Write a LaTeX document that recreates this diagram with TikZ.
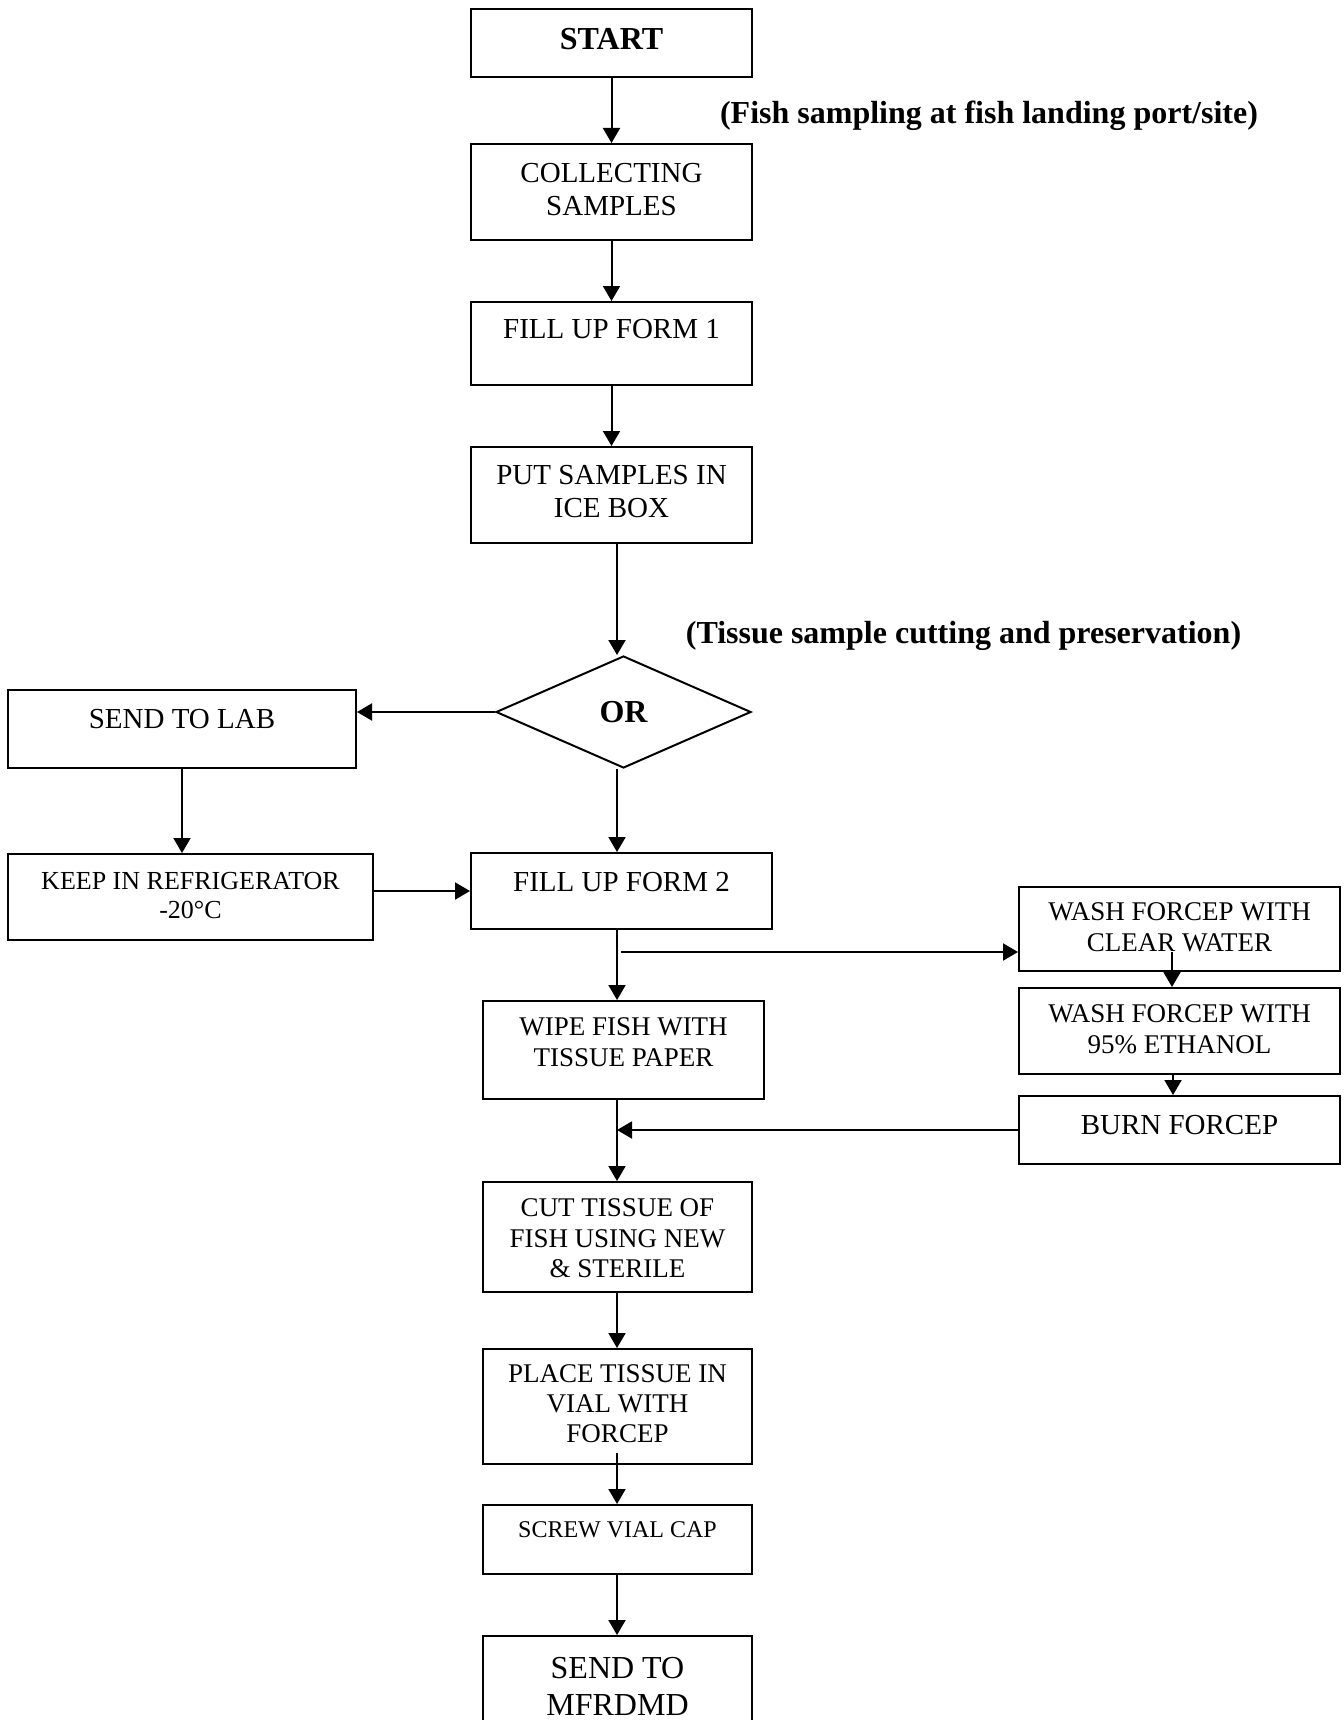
\documentclass[tikz,border=0pt]{standalone}
\usepackage{fontspec}
\setmainfont{Liberation Serif}
\usetikzlibrary{arrows.meta,shapes.geometric,calc}

\tikzset{every picture/.style={line width=2pt}}
\tikzset{
  stepbox/.style={draw, rectangle, inner sep=0pt},
  choice/.style={draw, diamond, inner sep=0pt, font=\fontsize{32}{36}\selectfont\bfseries},
  note/.style={inner sep=0pt, font=\fontsize{32}{36}\selectfont\bfseries},
  arr/.style={-{Triangle[length=15pt,width=17pt]}},
}
% box text: width, height, top gap, text
\newcommand{\steptext}[4]{\begin{minipage}[c][#2pt][t]{#1pt}\centering\vspace*{#3pt}#4\end{minipage}}

\begin{document}
\begin{tikzpicture}[x=1pt,y=1pt,yscale=-1,xscale=1]
\useasboundingbox (0,0) rectangle (1343,1720);

%Shape: Rectangle [start]
\node[stepbox, font=\fontsize{32}{36}\selectfont\bfseries] (start) at (611.5,43) {\steptext{281}{68}{19}{START}};
%Shape: Rectangle [collecting]
\node[stepbox, font=\fontsize{29}{33}\selectfont] (collect) at (611.5,192) {\steptext{281}{96}{19}{COLLECTING\\SAMPLES}};
%Shape: Rectangle [form 1]
\node[stepbox, font=\fontsize{29}{33}\selectfont] (form1) at (611.5,343.5) {\steptext{281}{83}{17}{FILL UP FORM 1}};
%Shape: Rectangle [ice box]
\node[stepbox, font=\fontsize{29}{33}\selectfont] (icebox) at (611.5,495) {\steptext{281}{96}{18}{PUT SAMPLES IN\\ICE BOX}};
%Shape: Diamond [or]
\node[choice, minimum width=255pt, minimum height=112pt] (or) at (623.5,712) {OR};
%Shape: Rectangle [lab]
\node[stepbox, font=\fontsize{29}{33}\selectfont] (lab) at (182,729) {\steptext{348}{78}{19}{SEND TO LAB}};
%Shape: Rectangle [fridge]
\node[stepbox, font=\fontsize{26}{29}\selectfont] (fridge) at (190.5,897) {\steptext{365}{86}{18}{KEEP IN REFRIGERATOR\\-20°C}};
%Shape: Rectangle [form 2]
\node[stepbox, font=\fontsize{29}{33}\selectfont] (form2) at (621.5,891) {\steptext{301}{76}{19}{FILL UP FORM 2}};
%Shape: Rectangle [wash 1]
\node[stepbox, font=\fontsize{27}{31}\selectfont] (wash1) at (1179.5,929) {\steptext{321}{84}{16}{WASH FORCEP WITH\\CLEAR WATER}};
%Shape: Rectangle [wash 2]
\node[stepbox, font=\fontsize{27}{31}\selectfont] (wash2) at (1179.5,1031) {\steptext{321}{86}{17}{WASH FORCEP WITH\\95\% ETHANOL}};
%Shape: Rectangle [burn]
\node[stepbox, font=\fontsize{29}{33}\selectfont] (burn) at (1179.5,1130) {\steptext{321}{68}{19}{BURN FORCEP}};
%Shape: Rectangle [wipe]
\node[stepbox, font=\fontsize{27}{31}\selectfont] (wipe) at (623.5,1050) {\steptext{281}{98}{17}{WIPE FISH WITH\\TISSUE PAPER}};
%Shape: Rectangle [cut]
\node[stepbox, font=\fontsize{27}{30.5}\selectfont] (cut) at (617.5,1237) {\steptext{269}{110}{17}{CUT TISSUE OF\\FISH USING NEW\\\& STERILE}};
%Shape: Rectangle [place]
\node[stepbox, font=\fontsize{27}{30}\selectfont] (place) at (617.5,1406.5) {\steptext{269}{115}{16}{PLACE TISSUE IN\\VIAL WITH\\FORCEP}};
%Shape: Rectangle [screw]
\node[stepbox, font=\fontsize{24}{28}\selectfont] (screw) at (617.5,1539.5) {\steptext{269}{69}{17}{SCREW VIAL CAP}};
%Shape: Rectangle [send]
\node[stepbox, font=\fontsize{32}{37}\selectfont] (send) at (617.5,1688) {\steptext{269}{104}{21}{SEND TO\\MFRDMD}};

% Text Node
\node[note] (note1) at (989,116) {(Fish sampling at fish landing port/site)};
% Text Node
\node[note] (note2) at (963.5,636) {(Tissue sample cutting and preservation)};

\coordinate (trunk) at (617,0);
\coordinate (split) at (621,952);

%Straight Lines
\draw[arr] (start) -- (collect);
\draw[arr] (collect) -- (form1);
\draw[arr] (form1) -- (icebox);
\draw[arr] (trunk |- icebox.south) -- (trunk |- or.north);
\draw[arr] (or.west) -- (or.west -| lab.east);
\draw[arr] (lab.south) -- (lab.south |- fridge.north);
\draw[arr] (fridge.east |- form2.west) -- (form2.west);
\draw[arr] (trunk |- or.south) -- (trunk |- form2.north);
\draw[arr] (trunk |- form2.south) -- (trunk |- wipe.north);
\draw[arr] (split) -- (split -| wash1.west);
\draw[arr] ($(wash1.center |- split)+(-7.5,0)$) -- ($(wash1.center |- wash2.north)+(-7.5,0)$);
\draw[arr] ($(wash2.south)+(-6.5,0)$) -- ($(burn.north)+(-6.5,0)$);
\draw[arr] (burn.west) -- (trunk |- burn.west);
\draw[arr] (trunk |- wipe.south) -- (trunk |- cut.north);
\draw[arr] (trunk |- cut.south) -- (trunk |- place.north);
\draw[arr] ($(trunk |- place.south)+(0,-12)$) -- (trunk |- screw.north);
\draw[arr] (trunk |- screw.south) -- (trunk |- send.north);

\end{tikzpicture}
\end{document}
